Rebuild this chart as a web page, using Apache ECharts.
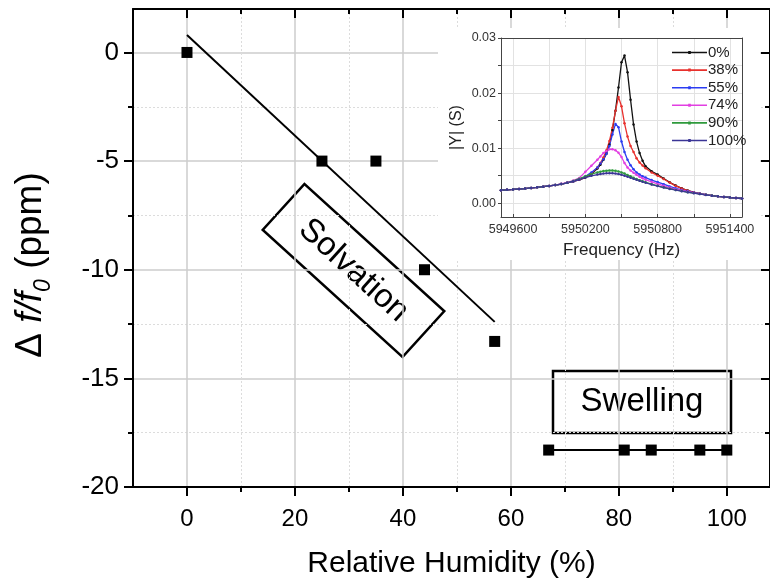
<!DOCTYPE html>
<html>
<head>
<meta charset="utf-8">
<script src="https://cdn.jsdelivr.net/npm/echarts@6/dist/echarts.min.js"></script>
<style>html,body{margin:0;padding:0;background:#fff}#c{width:770px;height:584px}</style>
</head>
<body>
<div id="c"></div>
<script>
// ---- main chart data ----
const humidity = [0, 25, 35, 44, 57];
const shiftPpm = [0, -5, -5, -10, -13.3];
const swellHumidity = [67, 81, 86, 95, 100];
const swellShift = [-18.3, -18.3, -18.3, -18.3, -18.3];
const fitHumidity = [0, 57];
const fitShift = [0.8, -12.4];
const xMajorTicks = [0, 20, 40, 60, 80, 100];
const xMinorTicks = [10, 30, 50, 70, 90];
const yMajorTicks = [0, -5, -10, -15, -20];
const yMinorTicks = [-2.5, -7.5, -12.5, -17.5];

// ---- inset data ----
const freq = [5949500,5949550,5949600,5949650,5949700,5949750,5949800,5949850,5949900,5949950,5950000,5950050,5950100,5950150,5950200,5950250,5950300,5950325,5950350,5950375,5950400,5950425,5950450,5950475,5950500,5950525,5950550,5950575,5950600,5950625,5950650,5950675,5950700,5950750,5950800,5950850,5950900,5950950,5951000,5951050,5951100,5951150,5951200,5951250,5951300,5951350,5951400,5951450,5951500];
const y0 = [0.00236,0.00243,0.00250,0.00258,0.00267,0.00277,0.00288,0.00300,0.00314,0.00330,0.00348,0.00370,0.00396,0.00425,0.00465,0.00530,0.00630,0.00700,0.00790,0.00900,0.01060,0.01330,0.01680,0.02100,0.02560,0.02680,0.02380,0.01880,0.01430,0.01120,0.00910,0.00770,0.00670,0.00580,0.00520,0.00450,0.00380,0.00320,0.00270,0.00230,0.00200,0.00175,0.00155,0.00140,0.00126,0.00114,0.00104,0.00095,0.00086];
const y38 = [0.00236,0.00243,0.00250,0.00258,0.00267,0.00277,0.00288,0.00300,0.00314,0.00330,0.00348,0.00370,0.00398,0.00430,0.00475,0.00545,0.00650,0.00730,0.00830,0.00960,0.01130,0.01370,0.01680,0.01930,0.01760,0.01450,0.01210,0.01040,0.00930,0.00815,0.00740,0.00685,0.00635,0.00560,0.00500,0.00440,0.00375,0.00315,0.00268,0.00228,0.00198,0.00174,0.00155,0.00140,0.00126,0.00114,0.00104,0.00095,0.00086];
const y55 = [0.00236,0.00243,0.00250,0.00258,0.00267,0.00277,0.00288,0.00300,0.00314,0.00330,0.00348,0.00370,0.00398,0.00435,0.00485,0.00560,0.00650,0.00720,0.00800,0.00900,0.01040,0.01250,0.01440,0.01380,0.01120,0.00930,0.00790,0.00690,0.00615,0.00560,0.00520,0.00490,0.00465,0.00420,0.00385,0.00345,0.00305,0.00270,0.00242,0.00216,0.00193,0.00172,0.00154,0.00139,0.00126,0.00114,0.00104,0.00095,0.00086];
const y74 = [0.00236,0.00243,0.00250,0.00258,0.00267,0.00277,0.00288,0.00300,0.00314,0.00330,0.00352,0.00378,0.00412,0.00460,0.00570,0.00680,0.00790,0.00850,0.00910,0.00950,0.00978,0.00980,0.00962,0.00915,0.00840,0.00730,0.00650,0.00595,0.00555,0.00515,0.00480,0.00452,0.00428,0.00388,0.00350,0.00316,0.00285,0.00256,0.00231,0.00209,0.00189,0.00170,0.00154,0.00139,0.00126,0.00114,0.00104,0.00095,0.00086];
const y90 = [0.00236,0.00243,0.00250,0.00258,0.00267,0.00277,0.00288,0.00300,0.00314,0.00330,0.00348,0.00370,0.00405,0.00445,0.00490,0.00530,0.00560,0.00573,0.00583,0.00590,0.00594,0.00594,0.00588,0.00577,0.00560,0.00538,0.00513,0.00488,0.00463,0.00440,0.00418,0.00398,0.00380,0.00346,0.00316,0.00289,0.00264,0.00241,0.00220,0.00201,0.00184,0.00168,0.00153,0.00139,0.00126,0.00114,0.00104,0.00095,0.00086];
const y100 = [0.00236,0.00243,0.00250,0.00258,0.00267,0.00277,0.00288,0.00300,0.00314,0.00330,0.00348,0.00370,0.00400,0.00432,0.00466,0.00497,0.00520,0.00530,0.00538,0.00543,0.00545,0.00544,0.00539,0.00530,0.00517,0.00500,0.00482,0.00463,0.00444,0.00425,0.00406,0.00389,0.00372,0.00340,0.00311,0.00285,0.00260,0.00238,0.00218,0.00199,0.00182,0.00166,0.00151,0.00137,0.00125,0.00114,0.00104,0.00095,0.00086];
const insetNames = ['0%', '38%', '55%', '74%', '90%', '100%'];
const insetValues = [y0, y38, y55, y74, y90, y100];
const insetColors = ['#111111', '#e8302c', '#2b3cf2', '#e23fe2', '#2f9a3c', '#3b3596'];
const freqLabels = [5949600, 5950200, 5950800, 5951400];
const freqTicks = [5949600, 5949900, 5950200, 5950500, 5950800, 5951100, 5951400];
const admLabels = [0, 0.01, 0.02, 0.03];
const admTicks = [0, 0.005, 0.01, 0.015, 0.02, 0.025, 0.03];

const FONT = 'Liberation Sans, Arial, sans-serif';
const zip = (a, b) => a.map((v, i) => [v, b[i]]);

const chart = echarts.init(document.getElementById('c'), null, {renderer: 'canvas'});

const xAxes = [
  // bottom major
  {type: 'value', gridIndex: 0, position: 'bottom', min: -10, max: 108,
   axisLine: {show: true, onZero: false, lineStyle: {color: '#000', width: 2}},
   axisTick: {show: true, customValues: xMajorTicks, length: 9, inside: false, lineStyle: {color: '#000', width: 2}},
   axisLabel: {show: true, customValues: xMajorTicks, fontSize: 24, fontFamily: FONT, color: '#000', margin: 20},
   splitLine: {show: true, lineStyle: {color: '#cccccc', width: 1.5}},
   name: 'Relative Humidity (%)', nameLocation: 'middle', nameGap: 62,
   nameTextStyle: {fontSize: 30, fontFamily: FONT, color: '#000'}},
  // bottom minor
  {type: 'value', gridIndex: 0, position: 'bottom', min: -10, max: 108,
   axisLine: {show: false, onZero: false},
   axisTick: {show: true, customValues: xMinorTicks, length: 5, lineStyle: {color: '#000', width: 2}},
   axisLabel: {show: false},
   splitLine: {show: true, lineStyle: {color: '#dcdcdc', width: 1, type: [2, 2]}}},
  // top major
  {type: 'value', gridIndex: 0, position: 'top', min: -10, max: 108,
   axisLine: {show: true, onZero: false, lineStyle: {color: '#000', width: 2}},
   axisTick: {show: true, inside: true, customValues: xMajorTicks, length: 9, lineStyle: {color: '#000', width: 2}},
   axisLabel: {show: false}, splitLine: {show: false}},
  // top minor
  {type: 'value', gridIndex: 0, position: 'top', min: -10, max: 108,
   axisLine: {show: false, onZero: false},
   axisTick: {show: true, inside: true, customValues: xMinorTicks, length: 5, lineStyle: {color: '#000', width: 2}},
   axisLabel: {show: false}, splitLine: {show: false}},
  // inset bottom
  {type: 'value', gridIndex: 1, position: 'bottom', min: 5949500, max: 5951500, z: 10,
   axisLine: {show: true, onZero: false, lineStyle: {color: '#444', width: 1}},
   axisTick: {show: true, customValues: freqTicks, length: 3, inside: true, lineStyle: {color: '#444'}},
   axisLabel: {show: true, customValues: freqLabels, fontSize: 12.5, fontFamily: FONT, color: '#333', margin: 6,
     formatter: v => String(Math.round(v))},
   splitLine: {show: true, lineStyle: {color: '#e2e2e2', width: 1}},
   name: 'Frequency (Hz)', nameLocation: 'middle', nameGap: 25,
   nameTextStyle: {fontSize: 17, fontFamily: FONT, color: '#222'}},
  // inset top frame
  {type: 'value', gridIndex: 1, position: 'top', min: 5949500, max: 5951500, z: 10,
   axisLine: {show: true, onZero: false, lineStyle: {color: '#444', width: 1}},
   axisTick: {show: false}, axisLabel: {show: false}, splitLine: {show: false}}
];

const yAxes = [
  // left major
  {type: 'value', gridIndex: 0, position: 'left', min: -20, max: 2,
   axisLine: {show: true, onZero: false, lineStyle: {color: '#000', width: 2}},
   axisTick: {show: true, customValues: yMajorTicks, length: 9, lineStyle: {color: '#000', width: 2}},
   axisLabel: {show: true, customValues: yMajorTicks, fontSize: 26, fontFamily: FONT, color: '#000', margin: 14},
   splitLine: {show: true, lineStyle: {color: '#cccccc', width: 1.5}},
   name: '{n|Δ }{i|f/f}{s|0}{n| (ppm)}', nameLocation: 'middle', nameGap: 78,
   nameTextStyle: {fontSize: 37, fontFamily: FONT, color: '#000', padding: [0, 34, 0, 0],
     rich: {
       n: {fontSize: 37, fontFamily: FONT, color: '#000', lineHeight: 42, verticalAlign: 'middle'},
       i: {fontSize: 37, fontFamily: FONT, fontStyle: 'italic', color: '#000', lineHeight: 42, verticalAlign: 'middle'},
       s: {fontSize: 23, fontFamily: FONT, fontStyle: 'italic', color: '#000', lineHeight: 49, verticalAlign: 'bottom'}
     }}},
  // left minor
  {type: 'value', gridIndex: 0, position: 'left', min: -20, max: 2,
   axisLine: {show: false, onZero: false},
   axisTick: {show: true, customValues: yMinorTicks, length: 5, lineStyle: {color: '#000', width: 2}},
   axisLabel: {show: false},
   splitLine: {show: true, lineStyle: {color: '#dcdcdc', width: 1, type: [2, 2]}}},
  // right major
  {type: 'value', gridIndex: 0, position: 'right', min: -20, max: 2,
   axisLine: {show: true, onZero: false, lineStyle: {color: '#000', width: 2}},
   axisTick: {show: true, inside: true, customValues: yMajorTicks, length: 9, lineStyle: {color: '#000', width: 2}},
   axisLabel: {show: false}, splitLine: {show: false}},
  // right minor
  {type: 'value', gridIndex: 0, position: 'right', min: -20, max: 2,
   axisLine: {show: false, onZero: false},
   axisTick: {show: true, inside: true, customValues: yMinorTicks, length: 5, lineStyle: {color: '#000', width: 2}},
   axisLabel: {show: false}, splitLine: {show: false}},
  // inset left
  {type: 'value', gridIndex: 1, position: 'left', min: -0.0025, max: 0.03, z: 10,
   axisLine: {show: true, onZero: false, lineStyle: {color: '#444', width: 1}},
   axisTick: {show: true, customValues: admTicks, length: 3, lineStyle: {color: '#444'}},
   axisLabel: {show: true, customValues: admLabels, fontSize: 12.5, fontFamily: FONT, color: '#333', margin: 5,
     formatter: v => Number(v).toFixed(2)},
   splitLine: {show: true, lineStyle: {color: '#e2e2e2', width: 1}},
   name: '|Y| (S)', nameLocation: 'middle', nameGap: 36,
   nameTextStyle: {fontSize: 16, fontFamily: FONT, color: '#222'}},
  // inset right frame
  {type: 'value', gridIndex: 1, position: 'right', min: -0.0025, max: 0.03, z: 10,
   axisLine: {show: true, onZero: false, lineStyle: {color: '#444', width: 1}},
   axisTick: {show: false}, axisLabel: {show: false}, splitLine: {show: false}}
];

const series = [
  {type: 'line', name: 'fit', xAxisIndex: 0, yAxisIndex: 0, data: zip(fitHumidity, fitShift),
   showSymbol: false, symbol: 'none', lineStyle: {color: '#000', width: 2}, z: 3, silent: true},
  {type: 'scatter', name: 'solvation', xAxisIndex: 0, yAxisIndex: 0, data: zip(humidity, shiftPpm),
   symbol: 'rect', symbolSize: 11, itemStyle: {color: '#000', opacity: 1}, z: 4},
  {type: 'line', name: 'swelling', xAxisIndex: 0, yAxisIndex: 0, data: zip(swellHumidity, swellShift),
   symbol: 'rect', symbolSize: 11, showSymbol: true, itemStyle: {color: '#000', opacity: 1},
   lineStyle: {color: '#000', width: 2}, z: 4}
];
insetNames.forEach((nm, k) => {
  series.push({
    type: 'line', name: nm, xAxisIndex: 4, yAxisIndex: 4, data: zip(freq, insetValues[k]),
    symbol: 'circle', symbolSize: 2.5, showSymbol: true,
    itemStyle: {color: insetColors[k]}, lineStyle: {color: insetColors[k], width: 1.3}, z: 10
  });
});

chart.setOption({
  animation: false,
  backgroundColor: '#fff',
  grid: [
    {left: 133, top: 9, right: 0, bottom: 95, containLabel: false},
    {left: 501, top: 38, right: 28, bottom: 367, containLabel: false}
  ],
  xAxis: xAxes,
  yAxis: yAxes,
  legend: {
    data: insetNames, orient: 'vertical', left: 667, top: 40, itemGap: 2.6,
    itemWidth: 35, itemHeight: 15, z: 11,
    icon: 'path://M0,6.7 H35 V8.3 H0 Z M16.2,6 H18.8 V9 H16.2 Z',
    textStyle: {fontSize: 15, fontFamily: FONT, color: '#222', padding: [0, 0, 0, -4]}
  },
  graphic: [
    {type: 'rect', z: 1, shape: {x: 438, y: 28, width: 322, height: 232}, style: {fill: '#fff'}, silent: true},
    {type: 'group', x: 353.5, y: 270.5, rotation: -0.738, z: 5, children: [
      {type: 'rect', shape: {x: -94.5, y: -31, width: 189, height: 62},
       style: {fill: 'none', stroke: '#000', lineWidth: 2.5}},
      {type: 'text', style: {text: 'Solvation', x: 0, y: 0, align: 'center', verticalAlign: 'middle',
        fontSize: 33, fontFamily: FONT, fill: '#000'}}
    ]},
    {type: 'group', x: 642, y: 402, z: 5, children: [
      {type: 'rect', shape: {x: -89, y: -31, width: 178, height: 62},
       style: {fill: 'none', stroke: '#000', lineWidth: 2.5}},
      {type: 'text', style: {text: 'Swelling', x: 0, y: 0, align: 'center', verticalAlign: 'middle',
        fontSize: 33, fontFamily: FONT, fill: '#000'}}
    ]}
  ],
  series: series
});
</script>
</body>
</html>
